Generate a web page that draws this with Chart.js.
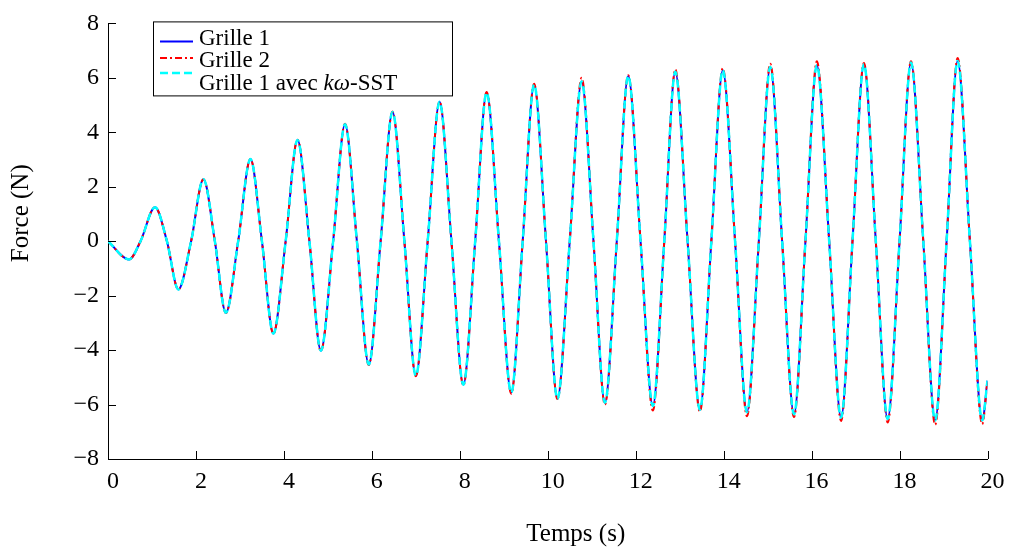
<!DOCTYPE html>
<html>
<head>
<meta charset="utf-8">
<script src="https://cdn.jsdelivr.net/npm/chart.js@4/dist/chart.umd.min.js"></script>
<style>
  html, body { margin: 0; padding: 0; background: #ffffff; }
  #wrap { width: 1011px; height: 552px; }
</style>
</head>
<body>
<div id="wrap"><canvas id="c" width="1011" height="552"></canvas></div>
<script>
// ---- Data ----
const seriesNames = ['Grille 1', 'Grille 2', 'Grille 1 avec kω-SST'];
const xTickValues = [0, 2, 4, 6, 8, 10, 12, 14, 16, 18, 20];
const yTickValues = [-8, -6, -4, -2, 0, 2, 4, 6, 8];

// start / end points of the signal (time s, force N)
const edgeTimes = [0, 20];
const edgeValuesG1 = [0, -5.12];
const edgeValuesG2 = [0, -5.12];
const edgeValuesSST = [0, -5.12];

// local maxima
const peakTimes = [1.07, 2.17, 3.24, 4.31, 5.39, 6.47, 7.54, 8.61, 9.69, 10.77, 11.83, 12.90, 13.98, 15.06, 16.12, 17.19, 18.26, 19.32];
const peakValuesG1 = [1.25, 2.28, 3.02, 3.72, 4.30, 4.75, 5.12, 5.46, 5.75, 5.87, 6.07, 6.22, 6.28, 6.40, 6.46, 6.50, 6.56, 6.62];
const peakValuesG2 = [1.25, 2.28, 3.02, 3.73, 4.31, 4.76, 5.13, 5.48, 5.78, 6.00, 6.10, 6.31, 6.35, 6.52, 6.61, 6.55, 6.61, 6.73];
const peakValuesSST = [1.25, 2.28, 3.02, 3.72, 4.30, 4.75, 5.12, 5.46, 5.75, 5.87, 6.07, 6.22, 6.28, 6.40, 6.46, 6.50, 6.56, 6.62];

// local minima
const troughTimes = [0.48, 1.60, 2.68, 3.76, 4.84, 5.93, 7.00, 8.08, 9.17, 10.22, 11.30, 12.39, 13.46, 14.53, 15.60, 16.67, 17.73, 18.81, 19.88];
const troughValuesG1 = [-0.67, -1.77, -2.63, -3.39, -4.02, -4.53, -4.94, -5.27, -5.56, -5.79, -5.93, -6.05, -6.19, -6.28, -6.36, -6.48, -6.53, -6.58, -6.58];
const troughValuesG2 = [-0.67, -1.77, -2.64, -3.40, -4.04, -4.55, -4.96, -5.30, -5.60, -5.80, -6.00, -6.22, -6.26, -6.43, -6.46, -6.60, -6.66, -6.74, -6.72];
const troughValuesSST = [-0.67, -1.77, -2.63, -3.39, -4.02, -4.53, -4.94, -5.27, -5.56, -5.79, -5.93, -6.05, -6.19, -6.28, -6.36, -6.48, -6.53, -6.58, -6.58];

// zero crossings (force = 0)
const crossTimes = [0.74, 1.34, 1.89, 2.43, 2.96, 3.50, 4.04, 4.58, 5.12, 5.66, 6.20, 6.74, 7.27, 7.81, 8.35, 8.89, 9.43, 9.96, 10.50, 11.04, 11.57, 12.11, 12.65, 13.18, 13.72, 14.26, 14.80, 15.33, 15.86, 16.40, 16.93, 17.46, 18.00, 18.54, 19.07, 19.60];

function buildSeries(edgeVals, peakVals, troughVals) {
  const pts = [];
  edgeTimes.forEach((t, i) => pts.push({ x: t, y: edgeVals[i] }));
  peakTimes.forEach((t, i) => pts.push({ x: t, y: peakVals[i] }));
  troughTimes.forEach((t, i) => pts.push({ x: t, y: troughVals[i] }));
  crossTimes.forEach(t => pts.push({ x: t, y: 0 }));
  pts.sort((a, b) => a.x - b.x);
  return pts;
}

const SERIF = "'Liberation Serif', 'DejaVu Serif', serif";
const fmt = v => (v < 0 ? '\u2212' + Math.abs(v) : String(v));

// inward ticks, axis titles and framed legend
const decorPlugin = {
  id: 'decor',
  afterDraw(chart) {
    const ctx = chart.ctx;
    const a = chart.chartArea;
    const xs = chart.scales.x, ys = chart.scales.y;
    ctx.save();
    ctx.strokeStyle = '#000';
    ctx.lineWidth = 1;
    ctx.beginPath();
    xTickValues.forEach(v => {
      const px = Math.round(xs.getPixelForValue(v)) + 0.5;
      ctx.moveTo(px, a.bottom); ctx.lineTo(px, a.bottom - 8);
    });
    yTickValues.forEach(v => {
      const py = Math.round(ys.getPixelForValue(v)) + 0.5;
      ctx.moveTo(a.left, py); ctx.lineTo(a.left + 8, py);
    });
    ctx.stroke();

    // axis titles
    ctx.fillStyle = '#000';
    ctx.font = '25px ' + SERIF;
    ctx.textAlign = 'center';
    ctx.textBaseline = 'alphabetic';
    ctx.fillText('Temps (s)', (a.left + a.right) / 2 + 28, a.bottom + 82);
    ctx.save();
    ctx.translate(a.left - 80, (a.top + a.bottom) / 2 - 28);
    ctx.rotate(-Math.PI / 2);
    ctx.fillText('Force (N)', 0, 0);
    ctx.restore();

    // legend
    const lx = a.left + 45, ly = a.top - 2, lw = 299, lh = 74;
    ctx.fillStyle = '#fff';
    ctx.fillRect(lx, ly, lw, lh);
    ctx.strokeStyle = '#000';
    ctx.lineWidth = 1;
    ctx.strokeRect(lx + 0.5, ly + 0.5, lw, lh);
    const ds = chart.data.datasets;
    const sampleY = [20, 36.5, 51.5];
    const textY = [23.3, 45.7, 68.3];
    ds.forEach((d, i) => {
      ctx.save();
      ctx.strokeStyle = d.borderColor;
      ctx.lineWidth = d.borderWidth;
      ctx.setLineDash(d.borderDash || []);
      ctx.beginPath();
      ctx.moveTo(lx + 7, ly + sampleY[i]);
      ctx.lineTo(lx + 40, ly + sampleY[i]);
      ctx.stroke();
      ctx.restore();
    });
    ctx.fillStyle = '#000';
    ctx.textAlign = 'left';
    ctx.font = '23px ' + SERIF;
    ctx.fillText(seriesNames[0], lx + 46, ly + textY[0]);
    ctx.fillText(seriesNames[1], lx + 46, ly + textY[1]);
    // third label with italic k omega
    let tx = lx + 46;
    const part1 = 'Grille 1 avec ', part2 = 'kω', part3 = '-SST';
    ctx.fillText(part1, tx, ly + textY[2]);
    tx += ctx.measureText(part1).width;
    ctx.font = 'italic 23px ' + SERIF;
    ctx.fillText(part2, tx, ly + textY[2]);
    tx += ctx.measureText(part2).width;
    ctx.font = '23px ' + SERIF;
    ctx.fillText(part3, tx, ly + textY[2]);
    ctx.restore();
  }
};

new Chart(document.getElementById('c'), {
  type: 'line',
  data: {
    datasets: [
      {
        label: seriesNames[0],
        data: buildSeries(edgeValuesG1, peakValuesG1, troughValuesG1),
        borderColor: '#0000ff', borderWidth: 2, order: 2
      },
      {
        label: seriesNames[1],
        data: buildSeries(edgeValuesG2, peakValuesG2, troughValuesG2),
        borderColor: '#ff0000', borderWidth: 2, borderDash: [7, 3, 2, 3], order: 1
      },
      {
        label: seriesNames[2],
        data: buildSeries(edgeValuesSST, peakValuesSST, troughValuesSST),
        borderColor: '#00ffff', borderWidth: 2.5, borderDash: [8, 4], order: 0
      }
    ]
  },
  options: {
    responsive: false,
    animation: false,
    devicePixelRatio: 1,
    layout: { padding: { top: 21, right: 23.5, left: 0, bottom: 0 } },
    elements: {
      point: { radius: 0 },
      line: { cubicInterpolationMode: 'monotone', fill: false }
    },
    plugins: { legend: { display: false }, tooltip: { enabled: false } },
    scales: {
      x: {
        type: 'linear', min: 0, max: 20,
        afterFit: s => { s.height = 93; },
        afterBuildTicks: s => { s.ticks = xTickValues.map(v => ({ value: v })); },
        grid: { display: false, drawTicks: false },
        border: { display: true, color: '#000', width: 1 },
        ticks: { color: '#000', font: { family: SERIF, size: 24 }, padding: 8, labelOffset: 5, callback: fmt, maxRotation: 0 }
      },
      y: {
        type: 'linear', min: -8, max: 8,
        afterFit: s => { s.width = 108; },
        afterBuildTicks: s => { s.ticks = yTickValues.map(v => ({ value: v })); },
        grid: { display: false, drawTicks: false },
        border: { display: true, color: '#000', width: 1 },
        ticks: { color: '#000', font: { family: SERIF, size: 24 }, padding: 9, callback: fmt }
      }
    }
  },
  plugins: [decorPlugin]
});
</script>
</body>
</html>
